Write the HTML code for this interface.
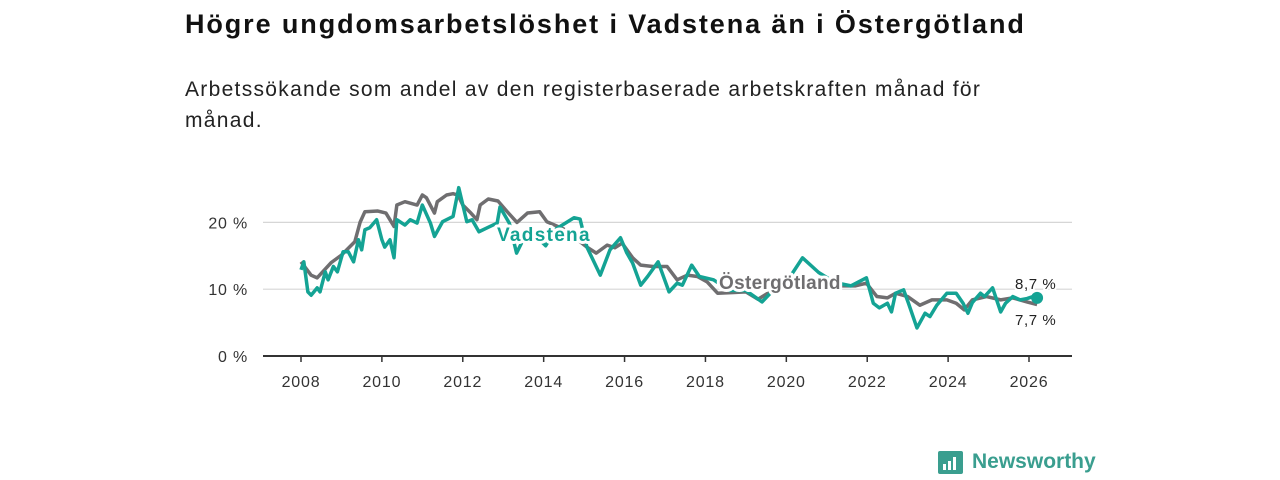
<!DOCTYPE html>
<html><head><meta charset="utf-8">
<style>
body{margin:0;width:1280px;height:480px;background:#fff;font-family:"Liberation Sans","DejaVu Sans",sans-serif;overflow:hidden;position:relative}
#title{position:absolute;left:185px;top:9px;font-size:27px;font-weight:bold;color:#111;margin:0;letter-spacing:1.9px;white-space:nowrap}
#sub{position:absolute;left:185px;top:74px;font-size:21px;color:#222;line-height:31px;width:860px;letter-spacing:1.3px}
svg{position:absolute;left:0;top:0}
</style></head><body>
<h1 id="title">Högre ungdomsarbetslöshet i Vadstena än i Östergötland</h1>
<div id="sub">Arbetssökande som andel av den registerbaserade arbetskraften månad för månad.</div>
<svg id="chart" width="1280" height="480"></svg>
<div style="position:absolute;left:938px;top:450px;display:flex;align-items:center">
<div style="width:25px;height:23px;background:#3a9e8f;border-radius:2px;position:relative"><div style="position:absolute;left:5px;bottom:4px;width:3px;height:6px;background:#fff"></div><div style="position:absolute;left:10px;bottom:4px;width:3px;height:9px;background:#fff"></div><div style="position:absolute;left:15px;bottom:4px;width:3px;height:13px;background:#fff"></div></div>
<span style="margin-left:9px;font-size:21px;font-weight:bold;color:#3a9e8f">Newsworthy</span></div>
<script>
const yTicks=[0,10,20];
const xTicks=[2008,2010,2012,2014,2016,2018,2020,2022,2024,2026];
const ostYears=[2008,2008.25,2008.4,2008.75,2009,2009.33,2009.46,2009.58,2009.9,2010.1,2010.3,2010.37,2010.57,2010.87,2011,2011.1,2011.3,2011.37,2011.6,2011.76,2011.88,2012,2012.2,2012.35,2012.43,2012.63,2012.87,2013.1,2013.34,2013.6,2013.9,2014.08,2014.5,2015.07,2015.3,2015.57,2015.76,2015.94,2016.2,2016.4,2016.7,2017.05,2017.3,2017.55,2017.8,2018.04,2018.3,2018.7,2019.0,2019.3,2019.7,2020.2,2020.7,2021.2,2021.7,2021.98,2022.24,2022.5,2022.7,2023,2023.3,2023.6,2023.97,2024.2,2024.4,2024.6,2024.95,2025.3,2025.6,2025.95,2026.2];
const ostVals=[14.1,12.1,11.7,14,15.1,17.1,20,21.6,21.7,21.4,19.4,22.6,23.1,22.6,24.1,23.7,21.4,23.1,24.1,24.3,24.1,22.6,21.4,20.4,22.6,23.5,23.2,21.6,20,21.4,21.6,20.1,19,16.3,15.4,16.6,16.2,16.9,14.7,13.6,13.4,13.4,11.4,12.1,11.9,11.1,9.4,9.5,9.6,8.5,10,11,11,10.5,10.5,10.9,8.9,8.7,9.4,8.9,7.6,8.4,8.4,7.9,6.9,8.4,8.9,8.4,8.7,8.1,7.7];
const vadYears=[2008,2008.07,2008.17,2008.25,2008.4,2008.47,2008.6,2008.67,2008.8,2008.9,2009.04,2009.17,2009.3,2009.42,2009.5,2009.58,2009.7,2009.87,2010,2010.07,2010.2,2010.3,2010.37,2010.57,2010.7,2010.87,2011,2011.2,2011.3,2011.5,2011.76,2011.9,2012.1,2012.23,2012.4,2012.57,2012.85,2012.92,2013.15,2013.33,2013.5,2013.8,2014.05,2014.3,2014.75,2014.9,2015.07,2015.4,2015.64,2015.9,2016.05,2016.2,2016.4,2016.57,2016.83,2017.1,2017.3,2017.43,2017.66,2017.85,2018.2,2018.6,2019.0,2019.4,2019.7,2020.0,2020.4,2020.8,2021.2,2021.6,2021.98,2022.15,2022.3,2022.5,2022.6,2022.7,2022.9,2023.02,2023.23,2023.43,2023.55,2023.72,2023.97,2024.2,2024.37,2024.49,2024.6,2024.8,2024.9,2025.1,2025.3,2025.42,2025.6,2025.78,2025.95,2026.1,2026.2];
const vadVals=[12.9,14.1,9.6,9.1,10.2,9.6,12.6,11.4,13.4,12.6,15.6,15.6,14.1,17.4,15.9,18.9,19.2,20.4,17.4,16.3,17.4,14.7,20.4,19.6,20.4,19.9,22.6,19.9,17.9,20.1,20.9,25.2,20.1,20.4,18.6,19.1,19.9,22.3,19.9,15.4,17.5,18,16.5,19,20.7,20.5,16.3,12.1,15.9,17.7,15.5,13.9,10.6,11.9,14.1,9.6,10.9,10.6,13.6,11.9,11.4,9.8,9.8,8.1,10,11,14.7,12.5,11,10.5,11.7,7.9,7.2,7.9,6.6,9.4,9.9,7.9,4.2,6.4,5.9,7.6,9.4,9.4,7.9,6.4,8,9.4,8.9,10.2,6.6,7.9,8.9,8.4,8.6,8.9,8.7];
const svg=document.getElementById('chart');const NS='http://www.w3.org/2000/svg';
const X=y=>301+(y-2008)*(728/18);const Y=v=>356-v*6.68;
function mk(t,a){const e=document.createElementNS(NS,t);for(const k in a)e.setAttribute(k,a[k]);svg.appendChild(e);return e;}
yTicks.forEach(v=>{const l=mk('line',{x1:263,x2:1072,y1:Y(v),y2:Y(v),stroke:v==0?'#333':'#d6d6d6','stroke-width':v==0?2:1.2});


const t=mk('text',{x:248,y:Y(v)+6,'text-anchor':'end','font-size':16,fill:'#333','letter-spacing':0.8});t.textContent=v+' %';

});
xTicks.forEach(v=>{const l=mk('line',{x1:X(v),x2:X(v),y1:356,y2:362,stroke:'#333','stroke-width':1.5});


const t=mk('text',{x:X(v),y:387,'text-anchor':'middle','font-size':16,fill:'#333','letter-spacing':0.8});t.textContent=v;

});
function line(xs,vs,c,n){const p=mk('polyline',{points:xs.map((x,i)=>X(x)+','+Y(vs[i])).join(' '),fill:'none',stroke:c,'stroke-width':3.5,'stroke-linejoin':'round'});

}
line(ostYears,ostVals,'#6f6e70','line-ostergotland');
line(vadYears,vadVals,'#14a394','line-vadstena');
const d=mk('circle',{cx:X(vadYears[vadYears.length-1]),cy:Y(vadVals[vadVals.length-1]),r:6,fill:'#14a394'});


function lab(x,y,s,c,n,sz,w,ls){const t=mk('text',{x:x,y:y,'font-size':sz,'font-weight':w,fill:c,stroke:'#fff','stroke-width':w=='bold'?6:4,'paint-order':'stroke','stroke-linejoin':'round','letter-spacing':ls});t.textContent=s;

}
lab(497,241,'Vadstena','#14a394','label-vadstena',19,'bold',1.3);
lab(719,289,'Östergötland','#6f6e70','label-ostergotland',19,'bold',0.3);
lab(1015,289,'8,7 %','#222','end-label-vadstena',15,'normal',0.6);
lab(1015,325,'7,7 %','#222','end-label-ostergotland',15,'normal',0.6);
</script>
</body></html>
